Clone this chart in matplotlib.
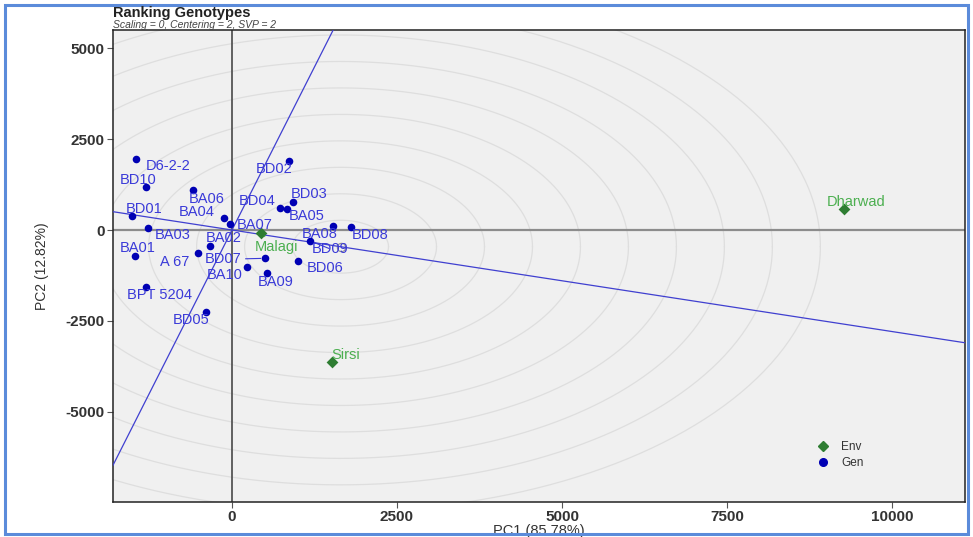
import numpy as np
import matplotlib.pyplot as plt
from matplotlib.patches import Rectangle
from matplotlib.lines import Line2D

plt.rcParams['font.family'] = ['Liberation Sans', 'DejaVu Sans']
plt.rcParams['axes.unicode_minus'] = False

# genotype scores (PC1, PC2)
gen_names = ['D6-2-2', 'BD10', 'BA06', 'BD01', 'BA04', 'BA07', 'BA03', 'BA02',
             'A 67', 'BA01', 'BD07', 'BA10', 'BA09', 'BD06', 'BD09', 'BA08',
             'BD08', 'BD03', 'BD04', 'BA05', 'BD02', 'BPT 5204', 'BD05']
gen_pc1 = [-1455, -1308, -591, -1510, -126, -30, -1273, -328,
           -520, -1470, 500, 222, 535, 1000, 1187, 1535,
           1798, 919, 727, 828, 864, -1298, -399]
gen_pc2 = [1942, 1181, 1090, 385, 339, 165, 64, -440,
           -623, -714, -778, -1016, -1172, -843, -302, 119,
           91, 778, 604, 585, 1896, -1575, -2261]

# environment scores
env_names = ['Malagi', 'Sirsi', 'Dharwad']
env_pc1 = [444, 1510, 9273]
env_pc2 = [-91, -3618, 577]

ring_step = 727
n_rings = 10

# label offsets in pixels (dx right, dy down) and whether a leader line is drawn
gen_offsets = {
    'D6-2-2': (32, 7), 'BD10': (-8, -7), 'BA06': (14, 9), 'BD01': (12, -7),
    'BA04': (-27, -6), 'BA07': (25, 1), 'BA03': (25, 7), 'BA02': (13, -8),
    'A 67': (-23, 9), 'BA01': (3, -8), 'BD07': (-42, 1), 'BA10': (-22, 8),
    'BA09': (8, 9), 'BD06': (27, 7), 'BD09': (20, 8), 'BA08': (-14, 8),
    'BD08': (19, 8), 'BD03': (16, -8), 'BD04': (-23, -7), 'BA05': (20, 7),
    'BD02': (-15, 8), 'BPT 5204': (13, 8), 'BD05': (-15, 8),
}
env_offsets = {'Malagi': (15, 14), 'Sirsi': (14, -7), 'Dharwad': (12, -7)}
leader = {'BD07', 'BD09', 'Malagi'}

gen_col = '#0000B4'
gen_txt = '#3A3AD8'
env_col = '#2E7D32'
env_txt = '#4CAF50'
line_col = '#4040D0'

fig = plt.figure(figsize=(9.73, 5.37), dpi=100)
ax = fig.add_axes([113 / 973, 1 - 502 / 537, (965 - 113) / 973, (502 - 30) / 537])
ax.set_facecolor('#F0F0F0')
xlim = (-1803, 11106)
ylim = (-7473, 5495)
ax.set_xlim(*xlim)
ax.set_ylim(*ylim)

# average environment axis through the origin and the mean environment
mx, my = np.mean(env_pc1), np.mean(env_pc2)
slope = my / mx
u = np.array([mx, my]) / np.hypot(mx, my)

# ideal genotype: largest projection on the average environment axis
proj = np.array(gen_pc1) * u[0] + np.array(gen_pc2) * u[1]
centre = proj.max() * u

t = np.linspace(0, 2 * np.pi, 400)
for k in range(1, n_rings + 1):
    r = k * ring_step
    ax.plot(centre[0] + r * np.cos(t), centre[1] + r * np.sin(t),
            color='#DEDEDE', lw=0.9, zorder=1)
ax.plot(centre[0], centre[1], 'o', mfc='none', mec='#909090', ms=6, mew=0.8, zorder=2)

ax.axhline(0, color='#8C8C8C', lw=1.6, zorder=2)
ax.axvline(0, color='#555555', lw=1.3, zorder=2)
ax.axline((0, 0), slope=slope, color=line_col, lw=0.9, zorder=3)
ax.axline((0, 0), slope=-1 / slope, color=line_col, lw=0.9, zorder=3)

ax.scatter(gen_pc1, gen_pc2, s=30, color=gen_col, zorder=5, linewidths=0)
ax.scatter(env_pc1, env_pc2, s=36, marker='D', color=env_col, zorder=5, linewidths=0)


def put_labels(names, xs, ys, offsets, col):
    for n, x, y in zip(names, xs, ys):
        dx, dy = offsets[n]
        ax.annotate(n, (x, y), xytext=(dx * 0.72, -dy * 0.72), textcoords='offset points',
                    ha='center', va='center', fontsize=10.5, color=col, zorder=6,
                    arrowprops=dict(arrowstyle='-', color=col, lw=0.8, shrinkA=1, shrinkB=3)
                    if n in leader else None)


put_labels(gen_names, gen_pc1, gen_pc2, gen_offsets, gen_txt)
put_labels(env_names, env_pc1, env_pc2, env_offsets, env_txt)

ax.set_xticks([0, 2500, 5000, 7500, 10000])
ax.set_yticks([-5000, -2500, 0, 2500, 5000])
ax.tick_params(length=4, width=0.8, color='#555555', labelsize=11, labelcolor='#333333', pad=2)
for lab in ax.get_xticklabels() + ax.get_yticklabels():
    lab.set_fontweight('bold')
for s in ax.spines.values():
    s.set_color('#222222')
    s.set_linewidth(1.1)

ax.set_xlabel('PC1 (85.78%)', fontsize=10.5, color='#333333', labelpad=0)
ax.set_ylabel('PC2 (12.82%)', fontsize=10, color='#333333', labelpad=12)

handles = [Line2D([], [], marker='D', ls='', color=env_col, ms=5),
           Line2D([], [], marker='o', ls='', color=gen_col, ms=5.5)]
ax.legend(handles, ['Env', 'Gen'], loc='center left', bbox_to_anchor=(0.812, 0.1),
          frameon=False, fontsize=8.5, handletextpad=1.0, labelspacing=0.35,
          handlelength=1.2, labelcolor='#333333')

fig.text(113 / 973, 1 - 13 / 537, 'Ranking Genotypes', fontsize=10.5, fontweight='bold',
         color='#222222', va='center')
fig.text(113 / 973, 1 - 24.5 / 537, 'Scaling = 0, Centering = 2, SVP = 2', fontsize=7.5,
         style='italic', color='#444444', va='center')

fig.add_artist(Rectangle((5 / 973, 1 - 534 / 537), 963 / 973, 529 / 537,
                         transform=fig.transFigure, fill=False, ec='#5B8BDA', lw=2.2))

fig.savefig('out.png', dpi=100)
